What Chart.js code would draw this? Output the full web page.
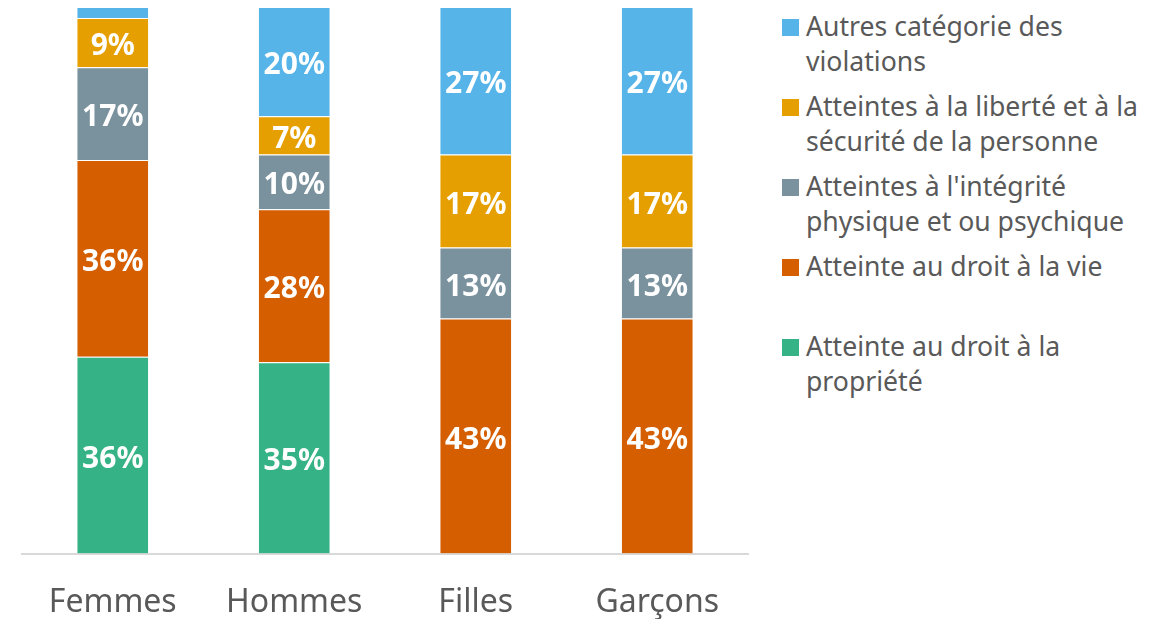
<!DOCTYPE html>
<html lang="fr">
<head>
  <meta charset="UTF-8" />
  <title>Catégories des violations</title>
  <script src="https://cdn.jsdelivr.net/npm/chart.js"></script>
  <style>
    body { margin: 0; background: #fff; font-family: "Noto Sans", "Open Sans", sans-serif; overflow: hidden; }
    #wrap { position: relative; width: 1163px; height: 619px; overflow: hidden; }
    #box { position: absolute; left: 0; top: 0; width: 760px; height: 644px; }
    #legende { position: absolute; left: 782px; top: 9px; width: 380px; }
    .item { position: relative; height: 80px; padding-left: 24px; font-size: 26.6px; line-height: 35px; color: #595959; white-space: nowrap; }
    .item span { position: absolute; left: 0; top: 10px; width: 17px; height: 17px; }
  </style>
</head>
<body>
  <div id="wrap">
    <div id="box"><canvas id="chart"></canvas></div>
    <div id="legende"></div>
  </div>

  <script>
    const categories = ['Femmes', 'Hommes', 'Filles', 'Garçons'];

    const propriete = [36, 35, 0, 0];
    const vie = [36, 28, 43, 43];
    const integrite = [17, 10, 13, 13];
    const liberte = [9, 7, 17, 17];
    const autres = [2, 20, 27, 27];

    const series = [
      { label: ['Atteinte au droit à la', 'propriété'], data: propriete, color: '#35B386' },
      { label: ['Atteinte au droit à la vie'], data: vie, color: '#D55E00' },
      { label: ["Atteintes à l'intégrité", 'physique et ou psychique'], data: integrite, color: '#7A919E' },
      { label: ['Atteintes à la liberté et à la', 'sécurité de la personne'], data: liberte, color: '#E69F00' },
      { label: ['Autres catégorie des', 'violations'], data: autres, color: '#56B4E9' }
    ];

    // étiquettes blanches au centre des segments
    const etiquettes = {
      id: 'etiquettes',
      afterDatasetsDraw(chart) {
        const ctx = chart.ctx;
        ctx.save();
        ctx.fillStyle = '#fff';
        ctx.font = 'bold 30px "Noto Sans", "Open Sans", sans-serif';
        ctx.textAlign = 'center';
        ctx.textBaseline = 'middle';
        chart.data.datasets.forEach((ds, i) => {
          chart.getDatasetMeta(i).data.forEach((bar, j) => {
            const v = ds.data[j];
            if (v < 5) return;
            ctx.fillText(v + '%', bar.x, (bar.y + bar.base) / 2 + 4);
          });
        });
        ctx.restore();
      }
    };

    new Chart(document.getElementById('chart'), {
      type: 'bar',
      data: {
        labels: categories,
        datasets: series.map(s => ({
          label: s.label.join(' '),
          data: s.data,
          backgroundColor: s.color,
          borderColor: 'rgba(255,255,255,0.45)',
          borderWidth: 1,
          barPercentage: 0.4,
          categoryPercentage: 1
        }))
      },
      options: {
        responsive: true,
        maintainAspectRatio: false,
        animation: false,
        layout: { padding: { left: 22, right: 12, top: 7, bottom: 0 } },
        plugins: { legend: { display: false }, tooltip: { enabled: false } },
        scales: {
          x: {
            stacked: true,
            grid: { display: false },
            border: { color: '#d9d9d9', width: 2 },
            ticks: { color: '#595959', font: { size: 32, family: '"Noto Sans", "Open Sans", sans-serif' }, padding: 22 }
          },
          y: { stacked: true, display: false, min: 0, max: 100 }
        }
      },
      plugins: [etiquettes]
    });

    const leg = document.getElementById('legende');
    series.slice().reverse().forEach(s => {
      const d = document.createElement('div');
      d.className = 'item';
      d.innerHTML = '<span style="background:' + s.color + '"></span>' + s.label.join('<br>');
      leg.appendChild(d);
    });
  </script>
</body>
</html>
